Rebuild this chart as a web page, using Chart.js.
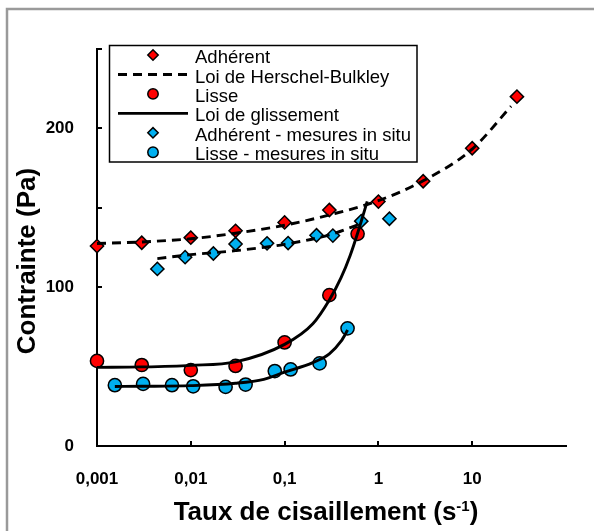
<!DOCTYPE html>
<html><head><meta charset="utf-8">
<script src="https://cdn.jsdelivr.net/npm/chart.js@4.4.1/dist/chart.umd.min.js"></script>
<style>html,body{margin:0;padding:0;background:#fff;}#wrap{position:relative;width:594px;height:531px;}</style>
</head><body><div id="wrap"><canvas id="c" width="594" height="531"></canvas></div>
<script>
// ---- data ----
const xTickValues = [0.001, 0.01, 0.1, 1, 10, 100];
const xTickLabels = ['0,001', '0,01', '0,1', '1', '10', ''];
const yTickValues = [0, 50, 100, 150, 200, 250];
const yTickLabels = ['0', '', '100', '', '200', ''];

const adherentX = [0.001, 0.003, 0.01, 0.03, 0.1, 0.3, 1, 3, 10, 30];
const adherentY = [125.9, 128.0, 131.2, 135.5, 140.8, 148.6, 153.9, 166.7, 187.5, 220];
const hbX = [0.001, 0.003, 0.01, 0.03, 0.1, 0.3, 1, 3, 10, 26];
const hbY = [127.5, 128.5, 130.5, 134, 139, 145.5, 154.5, 167, 187, 214];
const lisseX = [0.001, 0.003, 0.01, 0.03, 0.1, 0.3, 0.6];
const lisseY = [53.6, 51, 47.8, 50.4, 65.2, 95, 133.6];
const glissX = [0.001, 0.003, 0.01, 0.03, 0.1, 0.2, 0.3, 0.4, 0.5, 0.6, 0.7, 0.76];
const glissY = [49.5, 49.8, 50.8, 53, 64, 77, 92, 106, 120, 134, 147, 154];
const adhInSituX = [0.0044, 0.0087, 0.0174, 0.030, 0.065, 0.109, 0.219, 0.327, 0.657, 1.31];
const adhInSituY = [111.5, 118.9, 121.2, 127.2, 127.6, 127.8, 132.7, 132.5, 141.6, 143.1];
const hbInSituX = [0.0044, 0.01, 0.03, 0.1, 0.3, 0.65];
const hbInSituY = [118, 120.5, 123, 127, 133, 140];
const lisseInSituX = [0.00155, 0.0031, 0.0063, 0.0106, 0.0235, 0.0384, 0.0786, 0.116, 0.236, 0.469];
const lisseInSituY = [38.3, 39.1, 38.3, 37.6, 37.2, 38.7, 47.2, 48.2, 52, 74.1];
const glissInSituX = [0.00155, 0.003, 0.01, 0.03, 0.06, 0.1, 0.2, 0.3, 0.4, 0.47];
const glissInSituY = [37.5, 37.6, 38, 39.5, 42, 46.5, 52.5, 58, 66, 73];

const legendOrder = ['Adhérent', 'Loi de Herschel-Bulkley', 'Lisse', 'Loi de glissement',
  'Adhérent - mesures in situ', 'Lisse - mesures in situ'];
const xTitle = ['Taux de cisaillement (s', '-1', ')'];
const yTitle = 'Contrainte (Pa)';

// ---- styles ----
const FONT = "'Liberation Sans', Arial, sans-serif";
const RED = '#FF0000', BLUE = '#00B0F0';
function pts(xs, ys) { return xs.map((x, i) => ({ x: x, y: ys[i] })); }
function lineDs(label, xs, ys, dash) {
  return { label, data: pts(xs, ys), showLine: true, borderColor: '#000', borderWidth: 2.9,
    borderDash: dash, pointRadius: 0, pointHoverRadius: 0, tension: 0.4,
    cubicInterpolationMode: 'monotone', order: 0, clip: false, isLine: true };
}
function markDs(label, xs, ys, style, color) {
  return { label, data: pts(xs, ys), showLine: false, pointStyle: style, pointRadius: 6.6,
    pointHoverRadius: 6.6, backgroundColor: color, borderColor: '#000', pointBorderWidth: 1.5,
    borderWidth: 1.5, order: 1, clip: false, isLine: false };
}
const datasets = [
  markDs('Adhérent', adherentX, adherentY, 'rectRot', RED),
  lineDs('Loi de Herschel-Bulkley', hbX, hbY, [9, 6]),
  markDs('Lisse', lisseX, lisseY, 'circle', RED),
  lineDs('Loi de glissement', glissX, glissY, []),
  markDs('Adhérent - mesures in situ', adhInSituX, adhInSituY, 'rectRot', BLUE),
  markDs('Lisse - mesures in situ', lisseInSituX, lisseInSituY, 'circle', BLUE),
  lineDs('Loi de Herschel-Bulkley', hbInSituX, hbInSituY, [9, 6]),
  lineDs('Loi de glissement', glissInSituX, glissInSituY, [])
];

function drawMarker(ctx, style, x, y, r, fill) {
  ctx.beginPath();
  if (style === 'circle') ctx.arc(x, y, r, 0, Math.PI * 2);
  else { ctx.moveTo(x - r, y); ctx.lineTo(x, y - r); ctx.lineTo(x + r, y); ctx.lineTo(x, y + r); ctx.closePath(); }
  ctx.fillStyle = fill; ctx.fill();
  ctx.lineWidth = 1.5; ctx.strokeStyle = '#000'; ctx.stroke();
}

const decor = {
  id: 'decor',
  beforeDraw(chart) {
    const ctx = chart.ctx;
    ctx.save();
    ctx.fillStyle = '#fff'; ctx.fillRect(0, 0, chart.width, chart.height);
    ctx.strokeStyle = '#9a9a9a'; ctx.lineWidth = 2.5;
    ctx.beginPath(); ctx.moveTo(7, chart.height + 2); ctx.lineTo(7, 9); ctx.lineTo(chart.width + 2, 9); ctx.stroke();
    ctx.restore();
  },
  afterDraw(chart) {
    const ctx = chart.ctx, xs = chart.scales.x, ys = chart.scales.y, ca = chart.chartArea;
    ctx.save();
    // inward tick marks
    ctx.strokeStyle = '#000'; ctx.lineWidth = 2;
    yTickValues.forEach(v => {
      if (v === yTickValues[0]) return;
      const py = Math.round(ys.getPixelForValue(v));
      ctx.beginPath(); ctx.moveTo(ca.left, py); ctx.lineTo(ca.left + 5, py); ctx.stroke();
    });
    xTickValues.forEach((v, i) => {
      if (i === 0 || i === xTickValues.length - 1) return;
      const px = Math.round(xs.getPixelForValue(v));
      ctx.beginPath(); ctx.moveTo(px, ca.bottom); ctx.lineTo(px, ca.bottom - 5); ctx.stroke();
    });
    // axis titles
    ctx.fillStyle = '#000';
    ctx.font = 'bold 26px ' + FONT;
    const w1 = ctx.measureText(xTitle[0]).width, w3 = ctx.measureText(xTitle[2]).width;
    ctx.font = 'bold 15px ' + FONT;
    const w2 = ctx.measureText(xTitle[1]).width;
    let sx = 326 - (w1 + w2 + w3) / 2;
    const base = 519.5;
    ctx.textBaseline = 'alphabetic'; ctx.textAlign = 'left';
    ctx.font = 'bold 26px ' + FONT; ctx.fillText(xTitle[0], sx, base);
    ctx.font = 'bold 15px ' + FONT; ctx.fillText(xTitle[1], sx + w1, base - 8.5);
    ctx.font = 'bold 26px ' + FONT; ctx.fillText(xTitle[2], sx + w1 + w2, base);
    ctx.save();
    ctx.translate(27.5, 261); ctx.rotate(-Math.PI / 2);
    ctx.textAlign = 'center'; ctx.textBaseline = 'middle';
    ctx.fillText(yTitle, 0, 0);
    ctx.restore();
    // legend
    const L = { left: 109.5, top: 45.5, right: 417, bottom: 162, row0: 55, rowH: 19.45, mx: 153, l0: 118, l1: 188, tx: 195 };
    ctx.fillStyle = '#fff'; ctx.fillRect(L.left, L.top, L.right - L.left, L.bottom - L.top);
    ctx.strokeStyle = '#000'; ctx.lineWidth = 1.5; ctx.strokeRect(L.left, L.top, L.right - L.left, L.bottom - L.top);
    legendOrder.forEach((lab, i) => {
      const ds = chart.data.datasets.find(d => d.label === lab);
      const y = L.row0 + i * L.rowH;
      if (ds.isLine) {
        ctx.save();
        ctx.strokeStyle = ds.borderColor; ctx.lineWidth = ds.borderWidth; ctx.setLineDash(ds.borderDash);
        ctx.beginPath(); ctx.moveTo(L.l0, y); ctx.lineTo(L.l1, y); ctx.stroke();
        ctx.restore();
      } else {
        drawMarker(ctx, ds.pointStyle, L.mx, y, 5.2, ds.backgroundColor);
      }
      ctx.fillStyle = '#000'; ctx.font = '18.5px ' + FONT; ctx.textAlign = 'left'; ctx.textBaseline = 'middle';
      ctx.fillText(lab, L.tx, y + 3);
    });
    ctx.restore();
  }
};

function labelFor(values, labels, v) {
  for (let i = 0; i < values.length; i++) {
    if (Math.abs(values[i] - v) <= Math.abs(values[i]) * 1e-6 + 1e-9) return labels[i];
  }
  return '';
}

new Chart(document.getElementById('c'), {
  type: 'scatter',
  data: { datasets },
  options: {
    responsive: false, animation: false, events: [],
    layout: { padding: { top: 49, right: 28, left: 0, bottom: 0 } },
    plugins: { legend: { display: false }, tooltip: { enabled: false } },
    scales: {
      x: {
        type: 'logarithmic', min: 0.001, max: 100,
        grid: { display: false, drawTicks: false },
        border: { display: true, color: '#000', width: 2 },
        ticks: { color: '#000', font: { family: FONT, size: 17, weight: 'bold' }, padding: 23,
          autoSkip: false, maxRotation: 0, callback: v => labelFor(xTickValues, xTickLabels, v) },
        afterBuildTicks: s => { s.ticks = xTickValues.map(v => ({ value: v })); },
        afterFit: s => { s.height = 85; }
      },
      y: {
        min: 0, max: 250,
        grid: { display: false, drawTicks: false },
        border: { display: true, color: '#000', width: 2 },
        ticks: { color: '#000', font: { family: FONT, size: 17, weight: 'bold' }, padding: 23,
          stepSize: 50, autoSkip: false, callback: v => labelFor(yTickValues, yTickLabels, v) },
        afterBuildTicks: s => { s.ticks = yTickValues.map(v => ({ value: v })); },
        afterFit: s => { s.width = 97; }
      }
    }
  },
  plugins: [decor]
});
</script></body></html>
